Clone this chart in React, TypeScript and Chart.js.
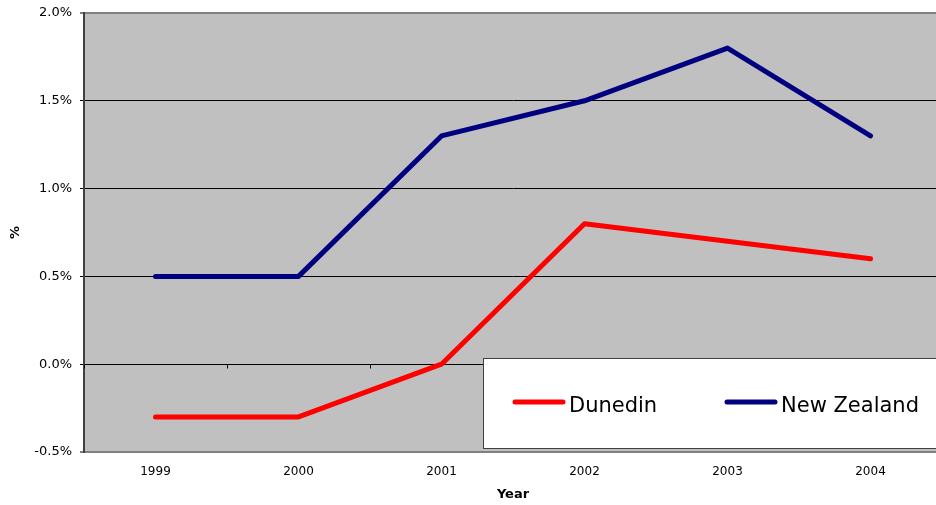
import { useEffect, useRef } from "react";
import { Chart, registerables } from "chart.js";

Chart.register(...registerables);

// Annual change, in percent
const years = ["1999", "2000", "2001", "2002", "2003", "2004"];
const dunedinChange = [-0.3, -0.3, 0.0, 0.8, 0.7, 0.6];
const newZealandChange = [0.5, 0.5, 1.3, 1.5, 1.8, 1.3];
const seriesNames = ["Dunedin", "New Zealand"];
const seriesColors = ["#FF0000", "#000080"];
const yMin = -0.5;
const yMax = 2.0;
const yStep = 0.5;

const FONT = "'DejaVu Sans', Verdana, sans-serif";

// Grey plot-area fill behind the grid
const plotBackground = {
  id: "plotBackground",
  beforeDraw(chart: any) {
    const { ctx, chartArea } = chart;
    ctx.save();
    ctx.fillStyle = "#C0C0C0";
    ctx.fillRect(chartArea.left, chartArea.top, chartArea.width, chartArea.height);
    ctx.restore();
  },
};

// Category-boundary tick marks hanging below the zero line
const zeroLineTicks = {
  id: "zeroLineTicks",
  beforeDatasetsDraw(chart: any) {
    const { ctx } = chart;
    const xs = chart.scales.x;
    const ys = chart.scales.y;
    const y0 = Math.round(ys.getPixelForValue(0)) + 0.5;
    ctx.save();
    ctx.strokeStyle = "#000";
    ctx.lineWidth = 1;
    for (let i = 0; i <= years.length; i++) {
      const x = Math.round(xs.getPixelForValue(i - 0.5)) + 0.5;
      ctx.beginPath();
      ctx.moveTo(x, y0);
      ctx.lineTo(x, y0 + 4);
      ctx.stroke();
    }
    ctx.restore();
  },
};

// Boxed legend sitting inside the plot area
const legendBox = {
  id: "legendBox",
  afterDraw(chart: any) {
    const { ctx } = chart;
    const boxX = 483;
    const boxY = 358;
    const boxW = 480;
    const boxH = 91;
    ctx.save();
    ctx.fillStyle = "#FFFFFF";
    ctx.fillRect(boxX, boxY, boxW, boxH);
    ctx.strokeStyle = "#404040";
    ctx.lineWidth = 1;
    ctx.strokeRect(boxX + 0.5, boxY + 0.5, boxW, boxH - 1);
    const itemX = [513, 725];
    const lineY = 402;
    chart.data.datasets.forEach((ds: any, i: number) => {
      const x0 = itemX[i];
      ctx.strokeStyle = ds.borderColor;
      ctx.lineWidth = 5;
      ctx.lineCap = "round";
      ctx.beginPath();
      ctx.moveTo(x0 + 2, lineY);
      ctx.lineTo(x0 + 50, lineY);
      ctx.stroke();
      ctx.fillStyle = "#000";
      ctx.font = `21px ${FONT}`;
      ctx.textAlign = "left";
      ctx.textBaseline = "alphabetic";
      ctx.fillText(ds.label, x0 + 56, 411.5);
    });
    ctx.restore();
  },
};

export default function App() {
  const canvasRef = useRef<HTMLCanvasElement | null>(null);

  useEffect(() => {
    if (!canvasRef.current) return;
    const edge = (v: number) => Math.abs(v - yMax) < 1e-9 || Math.abs(v - yMin) < 1e-9;
    const chart = new Chart(canvasRef.current, {
      type: "line",
      data: {
        labels: years,
        datasets: [
          {
            label: seriesNames[0],
            data: dunedinChange,
            borderColor: seriesColors[0],
            backgroundColor: seriesColors[0],
            borderWidth: 5,
            pointRadius: 0,
            tension: 0,
            borderCapStyle: "round",
            borderJoinStyle: "round",
          },
          {
            label: seriesNames[1],
            data: newZealandChange,
            borderColor: seriesColors[1],
            backgroundColor: seriesColors[1],
            borderWidth: 5,
            pointRadius: 0,
            tension: 0,
            borderCapStyle: "round",
            borderJoinStyle: "round",
          },
        ],
      },
      options: {
        animation: false,
        responsive: false,
        devicePixelRatio: 1,
        layout: { padding: { top: 13, left: 0, right: 0, bottom: 0 } },
        plugins: {
          legend: { display: false },
          tooltip: { enabled: false },
        },
        scales: {
          x: {
            type: "category",
            offset: true,
            grid: { display: false, offset: true },
            border: { display: true, color: "#808080", width: 2 },
            ticks: {
              color: "#000",
              font: { family: FONT, size: 12 },
              padding: 5,
              maxRotation: 0,
            },
            title: {
              display: true,
              text: "Year",
              color: "#000",
              font: { family: FONT, size: 13, weight: "bold" },
              padding: { top: 0, bottom: 3 },
            },
            afterFit(scale: any) {
              scale.height = 53;
            },
          },
          y: {
            min: yMin,
            max: yMax,
            ticks: {
              stepSize: yStep,
              color: "#000",
              font: { family: FONT, size: 13 },
              padding: 8,
              callback: (v: any) => `${Number(v).toFixed(1)}%`,
            },
            grid: {
              color: (c: any) => (edge(c.tick.value) ? "#808080" : "#000000"),
              lineWidth: (c: any) => (edge(c.tick.value) ? 2 : 1),
              tickColor: "#000000",
              tickWidth: 1,
              tickLength: 4,
            },
            border: { display: true, color: "#404040", width: 2 },
            title: {
              display: true,
              text: "%",
              color: "#000",
              font: { family: FONT, size: 13, weight: "bold" },
              padding: { top: 8, bottom: 0 },
            },
            afterFit(scale: any) {
              scale.width = 84;
              scale.paddingTop = 0;
              scale.paddingBottom = 0;
            },
          },
        },
      },
      plugins: [plotBackground, zeroLineTicks, legendBox],
    });
    return () => chart.destroy();
  }, []);

  return (
    <div
      style={{
        position: "absolute",
        left: 0,
        top: 0,
        width: 936,
        height: 505,
        overflow: "hidden",
        background: "#FFFFFF",
      }}
    >
      <canvas ref={canvasRef} width={942} height={505} style={{ display: "block" }} />
    </div>
  );
}
